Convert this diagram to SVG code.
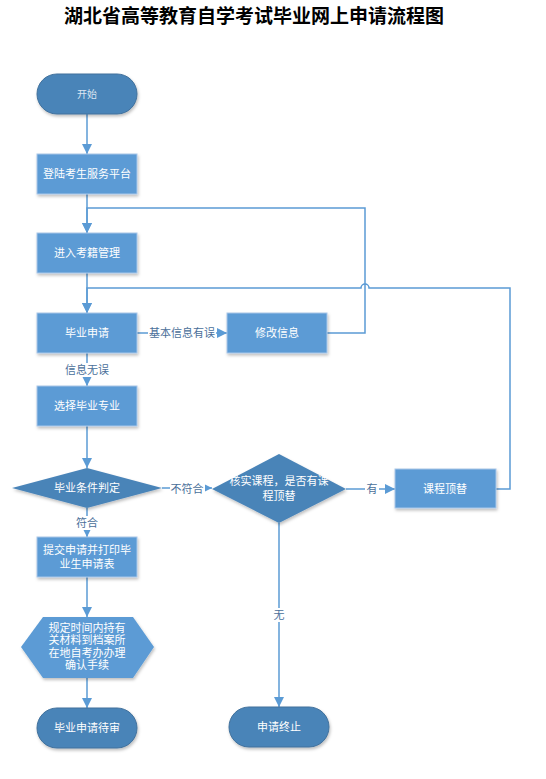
<svg xmlns="http://www.w3.org/2000/svg" width="546" height="779" viewBox="0 0 546 779">
<defs>
<marker id="arr" markerWidth="10" markerHeight="10" refX="10" refY="5" orient="auto" markerUnits="userSpaceOnUse">
<path d="M0,0 L10,5 L0,10 Z" fill="#5b9bd5"/>
</marker>
<filter id="sh" x="-10%" y="-10%" width="130%" height="140%">
<feDropShadow dx="1" dy="2" stdDeviation="1.5" flood-color="#000" flood-opacity="0.25"/>
</filter>
<style>
.term{fill:#4a84b8;stroke:#41719c;stroke-width:1;filter:url(#sh)}
.box{fill:#5b9bd5;stroke:#a9c6e8;stroke-width:1;filter:url(#sh)}
.dia{fill:#4a84b8;stroke:none;filter:url(#sh)}
.hex{fill:#5b9bd5;stroke:none;filter:url(#sh)}
.t{font-family:"Liberation Sans","Noto Sans CJK SC",sans-serif;font-size:11px;fill:#ffffff;text-anchor:middle;dominant-baseline:central}
.ts{font-size:10px;fill:#dce6f2}
.c{fill:none;stroke:#5b9bd5;stroke-width:1.5;marker-end:url(#arr)}
.lb{font-family:"Liberation Sans","Noto Sans CJK SC",sans-serif;font-size:11px;fill:#4a6f9a;text-anchor:middle;dominant-baseline:central}
.title{font-family:"Liberation Sans","Noto Sans CJK SC",sans-serif;font-size:19px;font-weight:bold;fill:#000;text-anchor:middle}
</style>
</defs>
<rect width="546" height="779" fill="#ffffff"/>
<text class="title" x="254" y="23">湖北省高等教育自学考试毕业网上申请流程图</text>

<g id="connectors">
<path class="c" d="M87,114 V154"/>
<path class="c" d="M87,194 V233"/>
<path class="c" d="M327,333 H365 V208 H87 V233"/>
<path class="c" d="M87,273 V313"/>
<path class="c" d="M496,489 H510 V288 H369 a4,4 0 0 0 -8,0 H87 V313"/>
<path class="c" d="M137,333 H227"/>
<path class="c" d="M87,353 V386"/>
<path class="c" d="M87,426 V468"/>
<path class="c" d="M162,488 H212"/>
<path class="c" d="M346,489 H395"/>
<path class="c" d="M87,508 V537"/>
<path class="c" d="M87,577 V617"/>
<path class="c" d="M87,678 V708"/>
<path class="c" d="M279,523 V707"/>
<rect x="148" y="326" width="68" height="14" fill="#fff"/>
<text class="lb" x="182" y="333">基本信息有误</text>
<rect x="65" y="363" width="44" height="14" fill="#fff"/>
<text class="lb" x="87" y="370">信息无误</text>
<rect x="170" y="482" width="35" height="14" fill="#fff"/>
<text class="lb" x="187" y="489">不符合</text>
<rect x="365" y="482" width="14" height="14" fill="#fff"/>
<text class="lb" x="372" y="489">有</text>
<rect x="75" y="516" width="24" height="14" fill="#fff"/>
<text class="lb" x="87" y="523">符合</text>
<rect x="272" y="608" width="14" height="14" fill="#fff"/>
<text class="lb" x="279" y="615">无</text>
</g>

<g id="start">
<rect class="term" x="37" y="74" width="100" height="40" rx="20"/>
<text class="t ts" x="87" y="94">开始</text>
</g>
<g id="login">
<rect class="box" x="37" y="154" width="100" height="40"/>
<text class="t" x="87" y="174">登陆考生服务平台</text>
</g>
<g id="enter">
<rect class="box" x="37" y="233" width="100" height="40"/>
<text class="t" x="87" y="253">进入考籍管理</text>
</g>
<g id="apply">
<rect class="box" x="37" y="313" width="100" height="40"/>
<text class="t" x="87" y="333">毕业申请</text>
</g>
<g id="modify">
<rect class="box" x="227" y="313" width="100" height="40"/>
<text class="t" x="277" y="333">修改信息</text>
</g>
<g id="major">
<rect class="box" x="37" y="386" width="100" height="40"/>
<text class="t" x="87" y="406">选择毕业专业</text>
</g>
<g id="judge">
<polygon class="dia" points="12,488 87,468 162,488 87,508"/>
<text class="t" x="87" y="488">毕业条件判定</text>
</g>
<g id="check">
<polygon class="dia" points="212,489 279,454 346,489 279,523"/>
<text class="t" x="279" y="481">核实课程，是否有课</text>
<text class="t" x="279" y="496">程顶替</text>
</g>
<g id="replace">
<rect class="box" x="395" y="469" width="101" height="39"/>
<text class="t" x="445" y="489">课程顶替</text>
</g>
<g id="submit">
<rect class="box" x="37" y="537" width="100" height="40"/>
<text class="t" x="87" y="550">提交申请并打印毕</text>
<text class="t" x="87" y="564">业生申请表</text>
</g>
<g id="confirm">
<polygon class="hex" points="21,647 43,617 133,617 154,647 133,678 43,678"/>
<text class="t" x="87" y="627.5">规定时间内持有</text>
<text class="t" x="87" y="640">关材料到档案所</text>
<text class="t" x="87" y="652.5">在地自考办办理</text>
<text class="t" x="87" y="665">确认手续</text>
</g>
<g id="pending">
<rect class="term" x="37" y="708" width="100" height="40" rx="20"/>
<text class="t" x="87" y="728">毕业申请待审</text>
</g>
<g id="terminate">
<rect class="term" x="229" y="707" width="100" height="40" rx="20"/>
<text class="t" x="279" y="727">申请终止</text>
</g>
</svg>
